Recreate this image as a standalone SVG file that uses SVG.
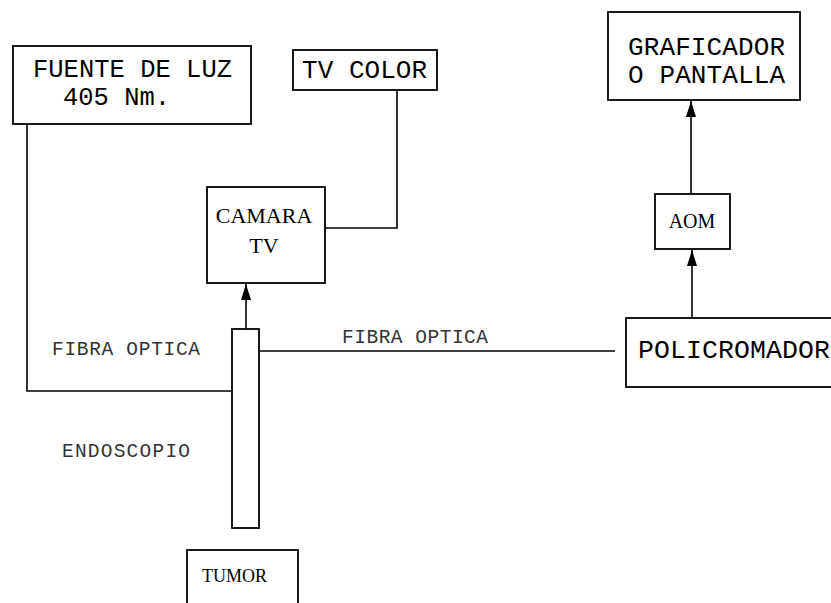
<svg xmlns="http://www.w3.org/2000/svg" width="831" height="603" viewBox="0 0 831 603">
<defs>
<style>
.box{fill:#fff;stroke:#000;stroke-width:1.8}
.ln{fill:none;stroke:#000;stroke-width:1.6}
.mono{font-family:"Liberation Mono","Courier New",monospace;fill:#000}
.serif{font-family:"Liberation Serif","Times New Roman",serif;fill:#000}
.thin{font-family:"Liberation Mono","Courier New",monospace;fill:#333;font-size:19.5px}
</style>
<marker id="ah" viewBox="0 0 16 10" refX="16" refY="5" markerWidth="16" markerHeight="10" markerUnits="userSpaceOnUse" orient="auto">
<path d="M0,0 L16,5 L0,10 Z" fill="#000"/>
</marker>
</defs>
<rect width="831" height="603" fill="#fff"/>
<g id="connectors">
<polyline class="ln" points="27,124 27,391 232,391"/>
<polyline class="ln" points="397,90 397,228 325,228"/>
<line class="ln" x1="259" y1="351" x2="615" y2="351"/>
<line class="ln" x1="246" y1="329" x2="246" y2="284" marker-end="url(#ah)"/>
<line class="ln" x1="692" y1="318" x2="692" y2="250" marker-end="url(#ah)"/>
<line class="ln" x1="691" y1="194" x2="691" y2="101" marker-end="url(#ah)"/>
</g>
<g id="fuente">
<rect class="box" x="13" y="46" width="238" height="78"/>
<text class="mono" x="33" y="77" font-size="25.5" textLength="199">FUENTE DE LUZ</text>
<text class="mono" x="63" y="105" font-size="25.5">405 Nm.</text>
</g>
<g id="tvcolor">
<rect class="box" x="293" y="50" width="144" height="40"/>
<text class="mono" x="302" y="78" font-size="26" textLength="125">TV COLOR</text>
</g>
<g id="graficador">
<rect class="box" x="608" y="12" width="192" height="88"/>
<text class="mono" x="628" y="55" font-size="26" textLength="157">GRAFICADOR</text>
<text class="mono" x="628" y="83" font-size="26" textLength="157">O PANTALLA</text>
</g>
<g id="camara">
<rect class="box" x="207" y="187" width="118" height="96"/>
<text class="serif" x="264" y="223" font-size="22" text-anchor="middle">CAMARA</text>
<text class="serif" x="264" y="253" font-size="22" text-anchor="middle">TV</text>
</g>
<g id="aom">
<rect class="box" x="655" y="194" width="75" height="55"/>
<text class="serif" x="692" y="228" font-size="20" text-anchor="middle">AOM</text>
</g>
<g id="policromador">
<rect class="box" x="626" y="318" width="215" height="69"/>
<text class="mono" x="638" y="358" font-size="26.5" textLength="192">POLICROMADOR</text>
</g>
<g id="endoscopio">
<rect class="box" x="232" y="329" width="27" height="199"/>
</g>
<g id="tumor">
<rect class="box" x="187" y="550" width="111" height="60"/>
<text class="serif" x="202" y="582" font-size="18">TUMOR</text>
</g>
<g id="labels">
<text class="thin" x="342" y="343" textLength="146">FIBRA OPTICA</text>
<text class="thin" x="52" y="355" textLength="148">FIBRA OPTICA</text>
<text class="thin" x="62" y="457" textLength="128">ENDOSCOPIO</text>
</g>
</svg>
